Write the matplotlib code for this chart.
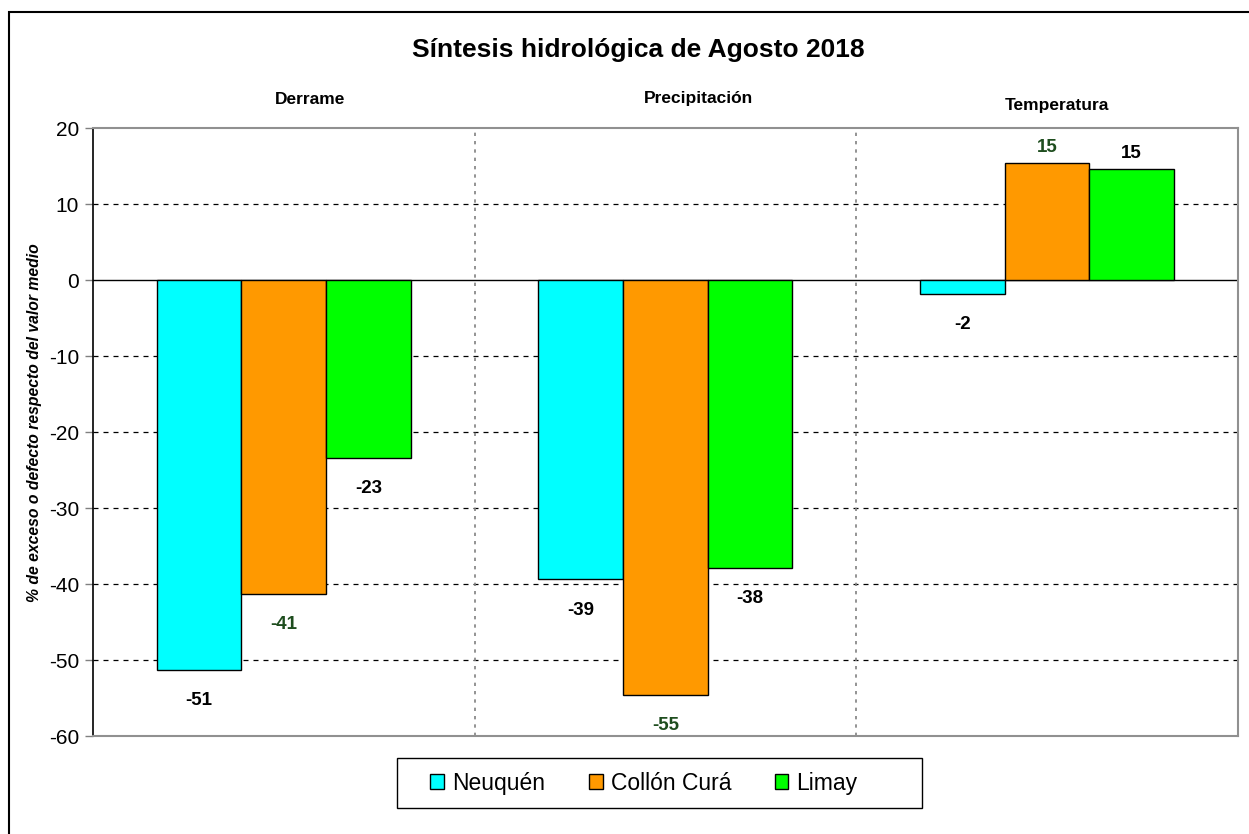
import numpy as np
import matplotlib.pyplot as plt
from matplotlib.patches import Rectangle

plt.rcParams['font.family'] = ['Liberation Sans', 'DejaVu Sans']

# == Datos ==
categorias = ["Derrame", "Precipitación", "Temperatura"]
series = ["Neuquén", "Collón Curá", "Limay"]
neuquen = [-51.3, -39.4, -1.8]
collon_cura = [-41.3, -54.6, 15.4]
limay = [-23.4, -37.9, 14.6]
y_ticks = [20, 10, 0, -10, -20, -30, -40, -50, -60]

colores = ["#00FFFF", "#FF9900", "#00FF00"]
color_etiqueta = ["black", "#1E4D1E", "black"]  # Collón Curá lleva etiqueta verde oscuro

fig = plt.figure(figsize=(12.49, 8.34), dpi=100)
ax = fig.add_axes([0.0745, 0.1175, 0.9165, 0.729])

x = np.arange(len(categorias))
ancho = 0.222
valores = [neuquen, collon_cura, limay]

for i, (nombre, vals) in enumerate(zip(series, valores)):
    pos = x + (i - 1) * ancho
    ax.bar(pos, vals, width=ancho, color=colores[i], edgecolor="black",
           linewidth=1.0, label=nombre, zorder=3)
    for xp, v in zip(pos, vals):
        off = 11 if v >= 0 else -22
        ax.annotate(f"{round(v)}", (xp, v), xytext=(0, off), textcoords="offset points",
                    ha="center", va="center", fontsize=13.5, fontweight="bold",
                    color=color_etiqueta[i], zorder=4)

# titulos de cada grupo, arriba del area de grafico (como en Excel, no centrados del todo)
desplaz_cat = [0.07, 0.087, 0.026]
alturas_cat = [23.7, 23.9, 22.9]
for xc, nombre, dx, h in zip(x, categorias, desplaz_cat, alturas_cat):
    ax.text(xc + dx, h, nombre, ha="center", va="center", fontsize=12.5,
            fontweight="bold", clip_on=False)

ax.set_xlim(-0.5, 2.5)
ax.set_ylim(-60, 20)
ax.set_yticks(y_ticks)
ax.set_yticklabels([str(t) for t in y_ticks], fontsize=15)
ax.set_xticks([])
ax.tick_params(axis="y", direction="out", length=6, width=1, color="#808080", pad=4)

# grilla punteada
for t in y_ticks:
    if t in (20, 0, -60):
        continue
    ax.axhline(t, color="black", linestyle=(0, (4, 4)), linewidth=0.9, zorder=1)
for xs in (0.5, 1.5):
    ax.axvline(xs, color="#808080", linestyle=(0, (2, 3)), linewidth=1.2, zorder=1)
ax.axhline(0, color="black", linewidth=1.0, zorder=2)

ax.spines["left"].set_color("black")
ax.spines["left"].set_linewidth(1.2)
for lado in ("top", "bottom", "right"):
    ax.spines[lado].set_color("#909090")
    ax.spines[lado].set_linewidth(1.5)
ax.spines["top"].set_linestyle((0, (3, 1)))
ax.spines["bottom"].set_linestyle((0, (3, 1)))

ax.set_ylabel("% de exceso o defecto respecto del valor medio", fontsize=11.3,
              fontweight="bold", fontstyle="italic")
ax.yaxis.set_label_coords(-0.045, 0.516)

fig.text(0.511, 0.94, "Síntesis hidrológica de Agosto 2018", ha="center", va="center",
         fontsize=19, fontweight="bold")

# leyenda sin marco propio; el recuadro se dibuja aparte (en Excel queda descentrada)
leg = fig.legend(loc="center", bbox_to_anchor=(0.5156, 0.061), ncol=3, fontsize=16.5,
                 frameon=False, handlelength=0.6, handleheight=0.6, handletextpad=0.35,
                 columnspacing=1.9)
for h in leg.legend_handles:
    h.set_linewidth(1.0)
fig.patches.append(Rectangle((397 / 1249, 1 - 808 / 834), 525 / 1249, 50 / 834,
                             transform=fig.transFigure, fill=False,
                             edgecolor="black", linewidth=1.0))

# marco exterior del grafico
fig.patches.append(Rectangle((0.0072, -0.1), 1.2, 1.0856, transform=fig.transFigure,
                             fill=False, edgecolor="black", linewidth=1.5))

fig.savefig("out.png", dpi=100)
